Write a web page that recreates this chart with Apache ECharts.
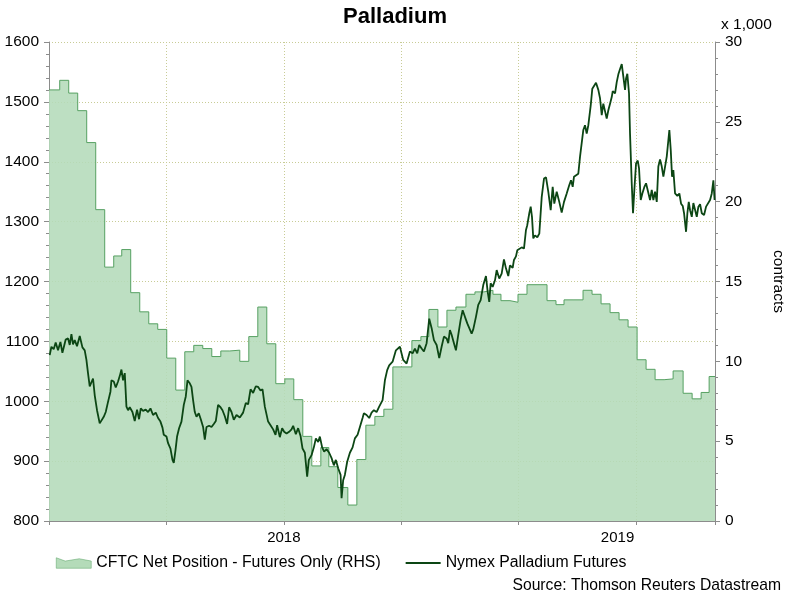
<!DOCTYPE html>
<html>
<head>
<meta charset="utf-8">
<title>Palladium</title>
<script src="https://cdn.jsdelivr.net/npm/echarts@6.0.0/dist/echarts.min.js"></script>
<style>
  html, body { margin: 0; padding: 0; background: #fff; }
  #chart { width: 790px; height: 595px; }
</style>
</head>
<body>
<div id="chart"></div>
<script>
// x positions are months counted from May 2017 (8 = Jan 2018, 20 = Jan 2019)
var yearTicks = { 8: '2018', 20: '2019' };

// CFTC net position, thousands of contracts, each value holds until the next step
var cftcMonths = [
  0, 0.365, 0.672, 0.978, 1.285, 1.592, 1.898, 2.205, 2.478, 2.784,
  3.092, 3.399, 3.705, 4.012, 4.319, 4.626, 4.932, 5.239, 5.546, 5.853,
  6.159, 6.5, 6.807, 7.114, 7.42, 7.727, 8.034, 8.34, 8.647, 8.954,
  9.261, 9.533, 9.84, 10.181, 10.488, 10.795, 11.102, 11.408, 11.715, 12.363,
  12.67, 12.943, 13.25, 13.557, 13.864, 14.205, 14.512, 14.818, 15.125, 15.398,
  15.705, 15.978, 16.285, 16.967, 17.273, 17.546, 17.853, 18.194, 18.501, 18.808,
  19.115, 19.422, 19.729, 20.036, 20.342, 20.649, 20.956, 21.263, 21.604, 21.911,
  22.217, 22.49, 22.69
];
var cftcValues = [
  27.0, 27.6, 26.8, 25.7, 23.7, 19.5, 15.9, 16.6, 17.0, 14.3,
  13.1, 12.35, 12.0, 10.2, 8.2, 10.6, 11.0, 10.8, 10.3, 10.65,
  10.7, 10.0, 11.55, 13.4, 11.1, 8.6, 8.9, 7.6, 5.3, 3.45,
  4.6, 3.4, 2.1, 1.0, 3.85, 6.0, 6.55, 7.0, 9.65, 11.3,
  11.55, 13.25, 12.15, 13.2, 13.4, 14.2, 14.35, 14.45, 14.2, 13.8,
  13.7, 14.2, 14.8, 13.8, 13.55, 13.85, 13.85, 14.45, 14.2, 13.6,
  13.05, 12.6, 12.15, 10.1, 9.5, 8.85, 8.9, 9.4, 8.0, 7.65,
  8.05, 9.05, 9.05
];

// Nymex palladium futures, USD/oz
var priceMonths = [
  0.024, 0.082, 0.160, 0.228, 0.307, 0.389, 0.457, 0.501, 0.569, 0.648,
  0.706, 0.764, 0.818, 0.876, 0.954, 1.047, 1.139, 1.217, 1.275, 1.329,
  1.387, 1.445, 1.500, 1.558, 1.636, 1.728, 1.786, 1.865, 1.933, 2.011,
  2.093, 2.127, 2.206, 2.274, 2.352, 2.410, 2.468, 2.523, 2.581, 2.638,
  2.693, 2.751, 2.843, 2.921, 3.000, 3.068, 3.126, 3.204, 3.296, 3.375,
  3.457, 3.545, 3.637, 3.716, 3.797, 3.866, 3.910, 4.002, 4.057, 4.138,
  4.207, 4.251, 4.309, 4.363, 4.432, 4.513, 4.592, 4.660, 4.718, 4.796,
  4.854, 4.909, 4.967, 5.025, 5.103, 5.171, 5.250, 5.308, 5.366, 5.454,
  5.536, 5.614, 5.683, 5.761, 5.843, 5.911, 5.990, 6.068, 6.136, 6.218,
  6.296, 6.388, 6.501, 6.613, 6.705, 6.784, 6.866, 6.954, 7.046, 7.125,
  7.206, 7.275, 7.353, 7.411, 7.465, 7.547, 7.636, 7.718, 7.772, 7.864,
  7.943, 8.011, 8.093, 8.181, 8.263, 8.318, 8.410, 8.488, 8.570, 8.638,
  8.717, 8.795, 8.853, 8.945, 9.023, 9.092, 9.170, 9.228, 9.306, 9.374,
  9.456, 9.545, 9.627, 9.705, 9.773, 9.852, 9.934, 9.968, 10.022, 10.080,
  10.159, 10.251, 10.343, 10.421, 10.513, 10.592, 10.683, 10.728, 10.820, 10.909,
  10.990, 11.069, 11.161, 11.249, 11.365, 11.444, 11.522, 11.590, 11.706, 11.819,
  11.955, 12.067, 12.183, 12.296, 12.388, 12.466, 12.545, 12.613, 12.695, 12.773,
  12.865, 12.954, 13.036, 13.114, 13.206, 13.295, 13.376, 13.455, 13.547, 13.602,
  13.659, 13.717, 13.796, 13.864, 13.943, 14.024, 14.093, 14.171, 14.250, 14.318,
  14.399, 14.454, 14.546, 14.624, 14.706, 14.795, 14.887, 14.945, 14.999, 15.047,
  15.115, 15.194, 15.252, 15.340, 15.422, 15.500, 15.568, 15.647, 15.705, 15.797,
  15.841, 15.909, 15.954, 16.022, 16.104, 16.182, 16.250, 16.294, 16.363, 16.411,
  16.455, 16.499, 16.557, 16.636, 16.704, 16.786, 16.864, 16.933, 17.010, 17.092,
  17.160, 17.215, 17.297, 17.385, 17.467, 17.546, 17.638, 17.726, 17.784, 17.842,
  17.886, 17.954, 18.033, 18.091, 18.149, 18.203, 18.261, 18.319, 18.374, 18.456,
  18.510, 18.568, 18.636, 18.715, 18.773, 18.831, 18.885, 18.943, 19.001, 19.056,
  19.114, 19.172, 19.206, 19.285, 19.342, 19.397, 19.455, 19.513, 19.567, 19.625,
  19.659, 19.703, 19.761, 19.795, 19.853, 19.897, 19.942, 20.000, 20.058, 20.102,
  20.160, 20.215, 20.283, 20.341, 20.409, 20.477, 20.535, 20.590, 20.648, 20.706,
  20.760, 20.818, 20.876, 20.931, 20.989, 21.047, 21.101, 21.135, 21.183, 21.227,
  21.271, 21.329, 21.408, 21.476, 21.534, 21.592, 21.636, 21.704, 21.749, 21.796,
  21.841, 21.899, 21.953, 22.011, 22.069, 22.124, 22.182, 22.240, 22.318, 22.386,
  22.444, 22.522, 22.580, 22.635, 22.676
];
var priceValues = [
  1077, 1091, 1087, 1098, 1085, 1099, 1081, 1080, 1103, 1105,
  1094, 1112, 1095, 1102, 1092, 1109, 1090, 1085, 1069, 1047,
  1025, 1024, 1038, 1010, 985, 963, 962, 974, 982, 999,
  1016, 1035, 1033, 1023, 1033, 1042, 1053, 1035, 1047, 991,
  985, 990, 982, 967, 986, 970, 988, 984, 986, 982,
  988, 977, 981, 972, 966, 956, 944, 941, 930, 921,
  902, 897, 918, 941, 955, 966, 994, 1008, 1035, 1030,
  1024, 1002, 982, 974, 980, 970, 957, 936, 957, 959,
  957, 962, 967, 994, 990, 985, 975, 962, 990, 982,
  969, 977, 973, 981, 997, 995, 1020, 1014, 1025, 1024,
  1018, 1020, 991, 990, 966, 960, 953, 944, 960, 940,
  955, 949, 946, 949, 953, 959, 945, 955, 942, 921,
  914, 874, 902, 910, 923, 938, 932, 941, 923, 916,
  920, 914, 905, 893, 902, 888, 877, 838, 868, 877,
  899, 914, 923, 938, 944, 957, 972, 980, 977, 972,
  981, 985, 982, 991, 1002, 1035, 1052, 1060, 1066, 1085,
  1091, 1069, 1063, 1083, 1080, 1088, 1080, 1094, 1088, 1083,
  1097, 1138, 1122, 1102, 1094, 1072, 1091, 1108, 1105, 1097,
  1119, 1111, 1097, 1085, 1111, 1136, 1152, 1141, 1130, 1133,
  1113, 1120, 1141, 1161, 1169, 1194, 1209, 1183, 1166, 1197,
  1191, 1202, 1219, 1205, 1213, 1237, 1222, 1209, 1227, 1223,
  1236, 1242, 1252, 1250, 1257, 1255, 1286, 1294, 1314, 1325,
  1308, 1272, 1277, 1274, 1280, 1341, 1372, 1374, 1350, 1319,
  1358, 1330, 1350, 1333, 1315, 1333, 1347, 1361, 1369, 1358,
  1375, 1372, 1380, 1408, 1411, 1453, 1461, 1447, 1461, 1494,
  1522, 1525, 1532, 1520, 1506, 1478, 1497, 1494, 1472, 1486,
  1497, 1508, 1518, 1514, 1533, 1546, 1555, 1563, 1560, 1520,
  1539, 1547, 1514, 1447, 1364, 1314, 1353, 1397, 1402, 1389,
  1336, 1347, 1358, 1364, 1367, 1336, 1353, 1336, 1350, 1333,
  1392, 1404, 1392, 1375, 1392, 1409, 1411, 1453, 1419, 1375,
  1386, 1347, 1343, 1347, 1330, 1326, 1314, 1283, 1314, 1333,
  1319, 1308, 1331, 1330, 1308, 1325, 1329, 1314, 1311, 1325,
  1328, 1336, 1347, 1369, 1336
];

var FONT = '"Liberation Sans", Arial, sans-serif';
var AXIS_GREY = '#8c8c8c';
var GRID_DOTS = '#c8cc96';
var AREA_FILL = '#b4dbb9';
var AREA_EDGE = '#56a062';
var LINE_GREEN = '#0c4614';

function zip(xs, ys) {
    var out = [];
    for (var i = 0; i < xs.length; i++) {
        out.push([xs[i], ys[i]]);
    }
    return out;
}

// plain numbers on the value axes, no thousands separator
function plain(v) {
    return String(v);
}

var chart = echarts.init(document.getElementById('chart'), null, { renderer: 'canvas' });

chart.setOption({
    animation: false,
    backgroundColor: '#fff',
    title: [{
        text: 'Palladium',
        left: 'center',
        top: 5.5,
        padding: 0,
        textStyle: { fontFamily: FONT, fontSize: 22, fontWeight: 'bold', color: '#000' }
    }, {
        text: 'x 1,000',
        left: 721,
        top: 17,
        padding: 0,
        textStyle: { fontFamily: FONT, fontSize: 15.5, fontWeight: 'normal', color: '#000' }
    }, {
        text: 'Source: Thomson Reuters Datastream',
        right: 9,
        top: 578,
        padding: 0,
        textStyle: { fontFamily: FONT, fontSize: 15.7, fontWeight: 'normal', color: '#000' }
    }],
    legend: {
        left: 56,
        top: 555,
        padding: 0,
        itemWidth: 35,
        itemHeight: 11,
        itemGap: 25,
        textStyle: { fontFamily: FONT, fontSize: 15.8, color: '#000' },
        data: [{
            name: 'CFTC Net Position - Futures Only (RHS)',
            icon: 'path://M0,0 L9,3.3 L23,1 L35,3.3 L35,10.5 L0,10.5 Z',
            itemStyle: { color: AREA_FILL, borderColor: AREA_EDGE, borderWidth: 0.5 }
        }, {
            name: 'Nymex Palladium Futures',
            icon: 'path://M0,0 L35,0 L35,2 L0,2 Z',
            itemStyle: { color: LINE_GREEN, borderWidth: 0 }
        }]
    },
    grid: {
        left: 49,
        right: 75,
        top: 42,
        bottom: 74,
        containLabel: false,
        outerBoundsMode: 'none'
    },
    xAxis: {
        type: 'value',
        min: 0,
        max: 22.69,
        interval: 4,
        axisLine: { show: true, lineStyle: { color: AXIS_GREY, width: 1 } },
        axisTick: { show: true, inside: false, length: 4, lineStyle: { color: AXIS_GREY } },
        splitLine: { show: true, lineStyle: { color: GRID_DOTS, type: [1, 2], width: 1 } },
        axisLabel: {
            margin: 9,
            fontFamily: FONT,
            fontSize: 15,
            color: '#000',
            showMinLabel: true,
            showMaxLabel: true,
            formatter: function (v) {
                var key = Math.round(v);
                if (Math.abs(v - key) > 0.01 || !yearTicks[key]) return '';
                return key === 20 ? '{shift|' + yearTicks[key] + '}' : yearTicks[key];
            },
            rich: {
                shift: { fontFamily: FONT, fontSize: 15, color: '#000', padding: [0, 37, 0, 0] }
            }
        }
    },
    yAxis: [{
        type: 'value',
        position: 'left',
        min: 800,
        max: 1600,
        interval: 100,
        axisLine: { show: true, lineStyle: { color: AXIS_GREY, width: 1 } },
        axisTick: { show: true, inside: false, length: 5, lineStyle: { color: AXIS_GREY } },
        minorTick: { show: true, splitNumber: 5, length: 3, lineStyle: { color: AXIS_GREY } },
        splitLine: { show: true, lineStyle: { color: GRID_DOTS, type: [1, 2], width: 1 } },
        axisLabel: {
            margin: 10,
            fontFamily: FONT,
            fontSize: 15.5,
            color: '#000',
            showMinLabel: true,
            showMaxLabel: true,
            formatter: plain
        }
    }, {
        type: 'value',
        position: 'right',
        min: 0,
        max: 30,
        interval: 5,
        name: 'contracts',
        nameLocation: 'middle',
        nameRotate: -90,
        nameGap: 55,
        nameTextStyle: { fontFamily: FONT, fontSize: 15.5, color: '#000' },
        axisLine: { show: true, lineStyle: { color: AXIS_GREY, width: 1 } },
        axisTick: { show: true, inside: false, length: 5, lineStyle: { color: AXIS_GREY } },
        minorTick: { show: true, splitNumber: 5, length: 3, lineStyle: { color: AXIS_GREY } },
        splitLine: { show: false },
        axisLabel: {
            margin: 10,
            fontFamily: FONT,
            fontSize: 15.5,
            color: '#000',
            showMinLabel: true,
            showMaxLabel: true,
            formatter: plain
        }
    }],
    series: [{
        name: 'CFTC Net Position - Futures Only (RHS)',
        type: 'line',
        yAxisIndex: 1,
        step: 'end',
        showSymbol: false,
        symbol: 'none',
        silent: true,
        itemStyle: { color: AREA_FILL },
        lineStyle: { color: AREA_EDGE, width: 1 },
        areaStyle: { color: AREA_FILL, opacity: 0.88 },
        data: zip(cftcMonths, cftcValues)
    }, {
        name: 'Nymex Palladium Futures',
        type: 'line',
        yAxisIndex: 0,
        showSymbol: false,
        symbol: 'none',
        silent: true,
        itemStyle: { color: LINE_GREEN },
        lineStyle: { color: LINE_GREEN, width: 1.8 },
        data: zip(priceMonths, priceValues)
    }]
});
</script>
</body>
</html>
